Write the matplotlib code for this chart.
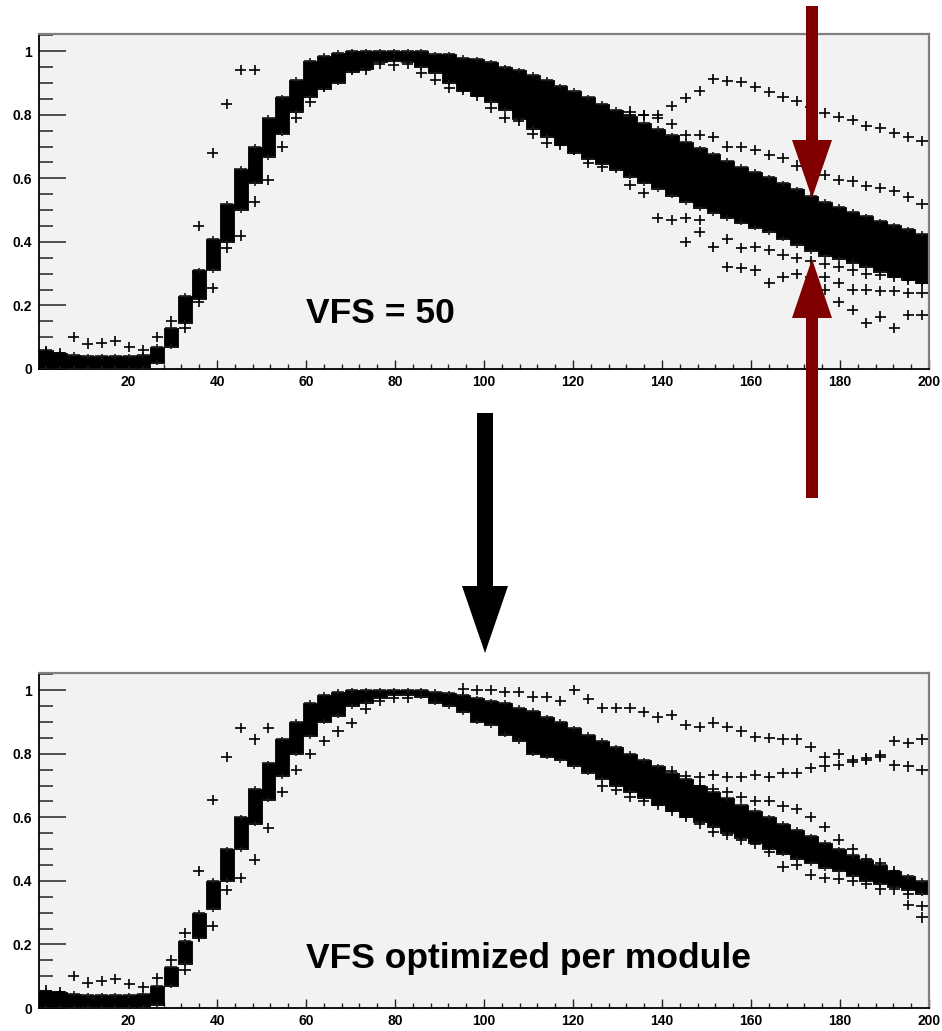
import matplotlib
matplotlib.use('Agg')
import matplotlib.pyplot as plt
import numpy as np
from matplotlib.patches import Polygon
from matplotlib.ticker import MultipleLocator

plt.rcParams['font.family'] = ['Liberation Sans', 'DejaVu Sans']

# 64 bins over 0..200
n_bins = 64
x_max = 200.0

# ---- top panel (VFS = 50): dense band of modules, lower/upper edge per bin
top_band_hi = [0.06, 0.05, 0.045, 0.04, 0.04, 0.04, 0.04, 0.045,
               0.07, 0.13, 0.23, 0.31, 0.41, 0.52, 0.63, 0.70,
               0.79, 0.855, 0.91, 0.97, 0.985, 0.995, 1.0, 1.0,
               1.0, 1.0, 1.0, 1.0, 0.99, 0.99, 0.98, 0.975,
               0.965, 0.95, 0.94, 0.925, 0.91, 0.89, 0.875, 0.855,
               0.835, 0.815, 0.795, 0.775, 0.755, 0.735, 0.715, 0.695,
               0.675, 0.655, 0.637, 0.62, 0.603, 0.585, 0.565, 0.545,
               0.527, 0.51, 0.495, 0.48, 0.465, 0.452, 0.44, 0.425]
top_band_lo = [0.0, 0.0, 0.0, 0.0, 0.0, 0.0, 0.0, 0.0,
               0.02, 0.07, 0.145, 0.22, 0.31, 0.40, 0.50, 0.585,
               0.667, 0.74, 0.81, 0.855, 0.88, 0.90, 0.935, 0.945,
               0.965, 0.97, 0.965, 0.95, 0.93, 0.90, 0.875, 0.86,
               0.84, 0.815, 0.785, 0.755, 0.73, 0.705, 0.68, 0.66,
               0.645, 0.625, 0.605, 0.585, 0.565, 0.545, 0.525, 0.505,
               0.49, 0.475, 0.46, 0.445, 0.43, 0.41, 0.39, 0.37,
               0.355, 0.345, 0.335, 0.32, 0.305, 0.29, 0.28, 0.27]

# outlying modules: (first bin, values)
top_e = (0, [0.055, 0.05, 0.10, 0.08, 0.082, 0.087, 0.07, 0.06, 0.10, 0.15])
top_f = (10, [0.20, 0.45, 0.68, 0.835, 0.94, 0.94])
top_g = (10, [0.13, 0.21, 0.255, 0.38, 0.42, 0.527, 0.595, 0.70, 0.79, 0.84,
              0.887, 0.915, 0.94, 0.94, 0.96, 0.955, 0.96, 0.93, 0.91, 0.884,
              0.877, 0.86, 0.82, 0.79, 0.78, 0.74, 0.71, 0.705, 0.69, 0.648,
              0.635, 0.635, 0.58, 0.553, 0.475, 0.47, 0.475, 0.47])
top_a = (42, [0.80, 0.80, 0.80, 0.827, 0.852, 0.875, 0.912, 0.906, 0.903, 0.887,
              0.871, 0.855, 0.843, 0.824, 0.805, 0.793, 0.783, 0.764, 0.758, 0.742,
              0.73, 0.717])
top_b = (42, [0.81, 0.80, 0.79, 0.77, 0.735, 0.735, 0.73, 0.70, 0.698, 0.69,
              0.673, 0.665, 0.64, 0.62, 0.61, 0.595, 0.59, 0.575, 0.57, 0.56,
              0.54, 0.52])
top_h = (46, [0.40, 0.43, 0.385, 0.41, 0.38, 0.385, 0.375, 0.36, 0.35, 0.34,
              0.33, 0.32, 0.31, 0.30, 0.295, 0.29, 0.28, 0.27])
top_i = (49, [0.32, 0.318, 0.31, 0.27, 0.29, 0.30, 0.29, 0.29, 0.27, 0.25,
              0.25, 0.245, 0.245, 0.24, 0.24])
top_j = (55, [0.275, 0.25, 0.21, 0.185, 0.145, 0.165, 0.13, 0.17, 0.17])

# ---- bottom panel (VFS optimized per module)
bot_band_hi = [0.055, 0.05, 0.045, 0.04, 0.04, 0.04, 0.04, 0.045,
               0.07, 0.13, 0.21, 0.30, 0.40, 0.50, 0.60, 0.69,
               0.77, 0.845, 0.90, 0.96, 0.985, 0.995, 1.0, 1.0,
               1.0, 1.0, 1.0, 1.0, 0.995, 0.99, 0.985, 0.975,
               0.965, 0.96, 0.945, 0.935, 0.915, 0.90, 0.88, 0.86,
               0.84, 0.82, 0.80, 0.78, 0.76, 0.74, 0.72, 0.70,
               0.68, 0.66, 0.64, 0.62, 0.60, 0.58, 0.56, 0.54,
               0.52, 0.50, 0.48, 0.465, 0.45, 0.43, 0.415, 0.40]
bot_band_lo = [0.0, 0.0, 0.0, 0.0, 0.0, 0.0, 0.0, 0.0,
               0.01, 0.07, 0.14, 0.22, 0.31, 0.40, 0.50, 0.58,
               0.655, 0.73, 0.80, 0.855, 0.90, 0.92, 0.95, 0.96,
               0.975, 0.985, 0.985, 0.98, 0.96, 0.95, 0.93, 0.90,
               0.89, 0.86, 0.84, 0.80, 0.79, 0.78, 0.76, 0.74,
               0.72, 0.70, 0.68, 0.66, 0.64, 0.62, 0.60, 0.585,
               0.57, 0.55, 0.535, 0.52, 0.50, 0.485, 0.47, 0.455,
               0.44, 0.43, 0.415, 0.40, 0.39, 0.38, 0.37, 0.36]

bot_e = (0, [0.055, 0.05, 0.10, 0.08, 0.085, 0.09, 0.075, 0.065, 0.095, 0.15])
bot_f = (10, [0.235, 0.43, 0.655, 0.79, 0.88, 0.845, 0.88])
bot_g = (10, [0.12, 0.225, 0.257, 0.37, 0.41, 0.467, 0.567, 0.68, 0.75, 0.80,
              0.84, 0.87, 0.897, 0.94, 0.965, 0.975, 0.975])
bot_p = (30, [1.005, 1.0, 1.0, 0.995, 0.995, 0.98, 0.978, 0.965, 1.0, 0.973,
              0.945, 0.945, 0.945, 0.93, 0.914, 0.922, 0.89, 0.885, 0.898, 0.885,
              0.87, 0.853, 0.85, 0.845, 0.845, 0.82, 0.79, 0.80, 0.78, 0.785,
              0.795, 0.84, 0.835, 0.845])
bot_q = (45, [0.745, 0.73, 0.727, 0.733, 0.727, 0.727, 0.733, 0.727, 0.74, 0.74,
              0.755, 0.76, 0.765, 0.775, 0.78, 0.79, 0.763, 0.76, 0.75])
bot_r = (47, [0.70, 0.69, 0.68, 0.665, 0.652, 0.652, 0.634, 0.625, 0.60, 0.57,
              0.53, 0.50, 0.47, 0.455, 0.43, 0.36, 0.32])
bot_s = (40, [0.697, 0.687, 0.665, 0.65, 0.64, 0.62, 0.60, 0.58, 0.555, 0.545,
              0.53, 0.515, 0.49, 0.445, 0.45, 0.42, 0.41, 0.405, 0.40, 0.39,
              0.373, 0.373, 0.325, 0.285])

bin_w = x_max / n_bins
centers = (np.arange(n_bins) + 0.5) * bin_w


def draw_panel(ax, lo, hi, outliers, label, label_y):
    lo = np.array(lo)
    hi = np.array(hi)
    ax.set_facecolor('#f2f2f2')
    ax.bar(centers, hi - lo, bottom=lo, width=bin_w, color='black',
           edgecolor='black', linewidth=0.6, zorder=2)
    for edge in (hi, lo):
        ax.errorbar(centers, edge, xerr=bin_w * 0.45, yerr=0.008, fmt='none',
                    ecolor='#1a1a1a', elinewidth=1.2, capsize=0, zorder=3)
    for start, vals in outliers:
        idx = np.arange(start, start + len(vals))
        ax.errorbar(centers[idx], vals, xerr=bin_w * 0.4, yerr=0.016, fmt='none',
                    ecolor='black', elinewidth=1.2, capsize=0, zorder=3)

    ax.set_xlim(0, x_max)
    ax.set_ylim(0, 1.054)
    ax.set_xticks(np.arange(0, 201, 20))
    ax.set_xticklabels([''] + [str(v) for v in range(20, 201, 20)])
    ax.xaxis.set_minor_locator(MultipleLocator(4))
    ax.set_yticks([0, 0.2, 0.4, 0.6, 0.8, 1.0])
    ax.set_yticklabels(['0', '0.2', '0.4', '0.6', '0.8', '1'])
    ax.yaxis.set_minor_locator(MultipleLocator(0.05))
    ax.tick_params(axis='x', which='major', direction='in', length=6.5, width=1.0,
                   labelsize=10, pad=4, color='#222')
    ax.tick_params(axis='x', which='minor', direction='in', length=3.5, width=1.0,
                   color='#222')
    ax.tick_params(axis='y', which='major', direction='in', length=19.5, width=1.2,
                   labelsize=10, pad=5, color='#333')
    ax.tick_params(axis='y', which='minor', direction='in', length=10, width=1.2,
                   color='#333')
    for t in ax.get_xticklabels() + ax.get_yticklabels():
        t.set_fontweight('bold')
    ax.spines['left'].set_color('black')
    ax.spines['bottom'].set_color('black')
    ax.spines['left'].set_linewidth(1.3)
    ax.spines['bottom'].set_linewidth(1.3)
    ax.spines['top'].set_color('#808080')
    ax.spines['right'].set_color('#808080')
    ax.spines['top'].set_linewidth(1.6)
    ax.spines['right'].set_linewidth(1.6)
    ax.text(60, label_y, label, fontsize=25.5, fontweight='bold', ha='left',
            va='baseline', zorder=5)


fig = plt.figure(figsize=(9.42, 10.31), dpi=100)

ax_top = fig.add_axes([39 / 942, 1 - 369 / 1031, 890 / 942, 335 / 1031])
draw_panel(ax_top, top_band_lo, top_band_hi,
           [top_e, top_f, top_g, top_a, top_b, top_h, top_i, top_j],
           'VFS = 50', 0.145)

ax_bot = fig.add_axes([39 / 942, 1 - 1008 / 1031, 890 / 942, 335 / 1031])
draw_panel(ax_bot, bot_band_lo, bot_band_hi,
           [bot_e, bot_f, bot_g, bot_p, bot_q, bot_r, bot_s],
           'VFS optimized per module', 0.127)

# overlay in pixel coordinates for the arrows
ov = fig.add_axes([0, 0, 1, 1], zorder=10)
ov.set_xlim(0, 942)
ov.set_ylim(1031, 0)
ov.axis('off')
ov.patch.set_alpha(0)


def arrow(xc, y_tail, y_tip, shaft_w, head_w, head_len, color):
    sgn = 1 if y_tip > y_tail else -1
    y_base = y_tip - sgn * head_len
    pts = [(xc - shaft_w / 2, y_tail), (xc + shaft_w / 2, y_tail),
           (xc + shaft_w / 2, y_base), (xc + head_w / 2, y_base),
           (xc, y_tip), (xc - head_w / 2, y_base), (xc - shaft_w / 2, y_base)]
    ov.add_patch(Polygon(pts, closed=True, facecolor=color, edgecolor='none'))


arrow(812, 6, 198, 12, 40, 58, '#800000')
arrow(812, 498, 259, 12, 40, 59, '#800000')
arrow(485, 413, 653, 16, 46, 67, 'black')

fig.savefig('out.png', dpi=100)
